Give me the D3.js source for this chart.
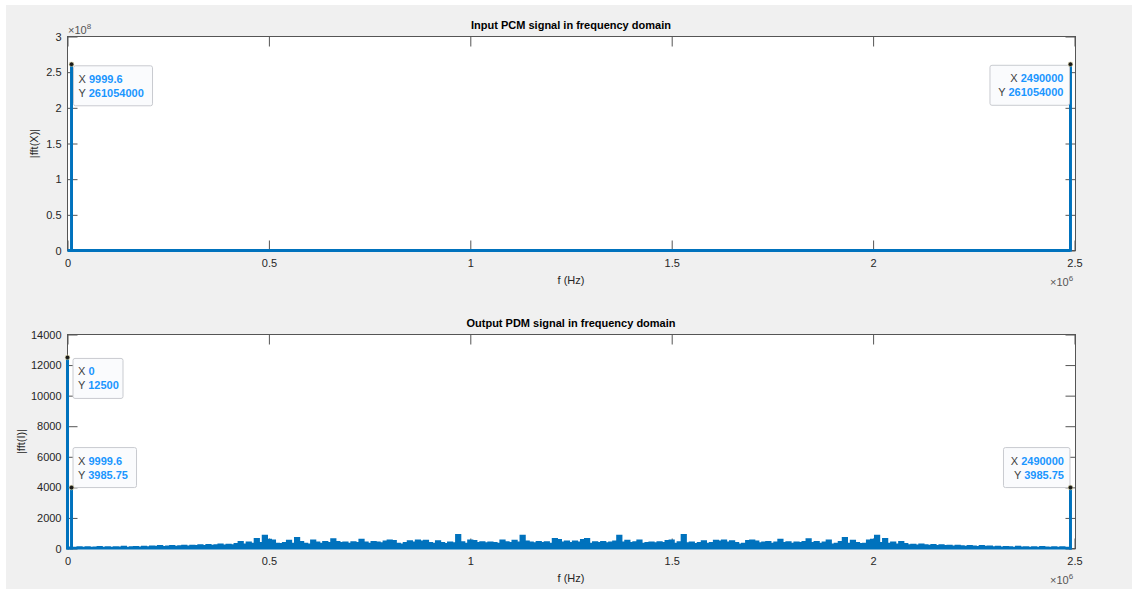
<!DOCTYPE html>
<html>
<head>
<meta charset="utf-8">
<script src="https://cdn.jsdelivr.net/npm/d3@7"></script>
<style>
  html, body { margin: 0; padding: 0; background: #ffffff; }
  svg { display: block; }
  text { font-family: "Liberation Sans", Arial, Helvetica, sans-serif; }
</style>
</head>
<body>
<svg id="fig" width="1132" height="589"></svg>
<script>
// Frequency grid: bin spacing of the noise-floor envelope (Hz)
const binHz = 9999.6;

// Input PCM spectrum: tonal lines
const pcmToneHz  = [9999.6, 2490000];
const pcmToneMag = [261054000, 261054000];

// Output PDM spectrum: tonal lines (DC + signal + image)
const pdmToneHz  = [0, 9999.6, 2490000];
const pdmToneMag = [12500, 3985.75, 3985.75];

// Output PDM noise floor, per bin (k = 0..249), |fft(I)|
const pdmFloor = [
   60,  50,  40,  70,  50,  80,  40,  60,  90,  50,
   70,  40,  80,  60, 100,  50,  70,  90,  60, 110,
   80, 130, 100, 150,  90, 120, 160, 110, 140, 180,
  130, 170, 150, 200, 160, 230, 180, 210, 260, 190,
  240, 200, 280, 420, 250, 380, 300, 620, 350, 820,
  560, 520, 300, 280, 350, 500, 300, 680, 420, 300,
  250, 520, 380, 300, 420, 350, 600, 420, 350, 380,
  300, 400, 350, 560, 380, 300, 420, 380, 330, 450,
  520, 480, 300, 250, 350, 460, 380, 520, 450, 500,
  350, 300, 470, 350, 280, 380, 330, 870, 400, 300,
  520, 480, 350, 400, 330, 380, 350, 300, 520, 400,
  350, 500, 380, 820, 450, 380, 330, 420, 350, 400,
  300, 620, 550, 380, 450, 350, 450, 380, 550, 620,
  300, 400, 350, 420, 330, 380, 450, 820, 380, 500,
  350, 400, 520, 300, 350, 380, 330, 400, 350, 480,
  520, 300, 400, 870, 330, 380, 280, 350, 470, 300,
  350, 500, 450, 520, 380, 460, 350, 250, 300, 480,
  520, 450, 330, 380, 420, 300, 380, 560, 350, 400,
  300, 380, 350, 420, 600, 350, 420, 300, 380, 520,
  250, 300, 420, 680, 300, 500, 350, 280, 300, 520,
  560, 820, 350, 620, 300, 380, 250, 420, 280, 200,
  240, 190, 260, 210, 180, 230, 160, 200, 150, 170,
  130, 180, 140, 110, 160, 120,  90, 150, 100, 130,
   80, 110,  60,  90,  70,  50, 100,  60,  80,  40,
   70,  50,  90,  60,  40,  80,  50,  70,  40,  50
];

// Axis ticks
const xTickValues = [0, 0.5e6, 1e6, 1.5e6, 2e6, 2.5e6];
const xTickLabels = ["0", "0.5", "1", "1.5", "2", "2.5"];
const pcmYTickValues = [0, 0.5e8, 1e8, 1.5e8, 2e8, 2.5e8, 3e8];
const pcmYTickLabels = ["0", "0.5", "1", "1.5", "2", "2.5", "3"];
const pdmYTickValues = [0, 2000, 4000, 6000, 8000, 10000, 12000, 14000];
const pdmYTickLabels = ["0", "2000", "4000", "6000", "8000", "10000", "12000", "14000"];

// Data tips shown on each panel (index into the tone arrays)
const pcmTips = [0, 1];
const pdmTips = [0, 1, 2];

const BLUE = "#0072BD";
const AXIS = "#555555";
const TEXT = "#262626";
const TIPVAL = "#1a96ff";

const svg = d3.select("#fig");

// figure background
svg.append("rect").attr("x", 6).attr("y", 5).attr("width", 1126).attr("height", 584)
  .attr("fill", "#f0f0f0");

function drawPanel(cfg) {
  const L = 67.5, R = 1075.5;
  const x = d3.scaleLinear().domain([0, 2.5e6]).range([L, R - 1]);
  const y = d3.scaleLinear().domain(cfg.yDomain).range([cfg.bottom, cfg.top]);
  const g = svg.append("g");

  // plot area
  g.append("rect").attr("x", L).attr("y", cfg.top).attr("width", R - L)
    .attr("height", cfg.bottom - cfg.top).attr("fill", "#ffffff");

  // axes: bottom with labels, top/right ticks only
  const fmtX = (d, i) => xTickLabels[i];
  const fmtY = (d, i) => cfg.yTickLabels[i];

  const ax = g.append("g").attr("transform", `translate(0,${cfg.bottom})`)
    .call(d3.axisBottom(x).tickValues(xTickValues).tickFormat(fmtX)
      .tickSizeInner(-10).tickSizeOuter(0).tickPadding(9));
  const axTop = g.append("g").attr("transform", `translate(0,${cfg.top})`)
    .call(d3.axisTop(x).tickValues(xTickValues).tickFormat("")
      .tickSizeInner(-10).tickSizeOuter(0));
  const ay = g.append("g").attr("transform", `translate(${L},0)`)
    .call(d3.axisLeft(y).tickValues(cfg.yTickValues).tickFormat(fmtY)
      .tickSizeInner(-10).tickSizeOuter(0).tickPadding(6));
  const ayR = g.append("g").attr("transform", `translate(${R},0)`)
    .call(d3.axisRight(y).tickValues(cfg.yTickValues).tickFormat("")
      .tickSizeInner(-10).tickSizeOuter(0));
  [ax, axTop, ay, ayR].forEach(a => {
    a.select(".domain").remove();
    a.selectAll("line").attr("stroke", AXIS);
    a.selectAll("text").attr("fill", TEXT).attr("font-size", 11)
      .attr("font-family", "'Liberation Sans', Arial, sans-serif");
  });

  // axes box
  g.append("rect").attr("x", L).attr("y", cfg.top).attr("width", R - L)
    .attr("height", cfg.bottom - cfg.top).attr("fill", "none").attr("stroke", AXIS);

  // noise floor (stepped envelope) or flat baseline
  if (cfg.floor) {
    const pts = cfg.floor.map((v, k) => ({ f: k * binHz, v }));
    const area = d3.area().curve(d3.curveStep)
      .x(d => x(d.f)).y0(y(0)).y1(d => y(d.v));
    g.append("path").attr("d", area(pts))
      .attr("fill", BLUE).attr("stroke", BLUE).attr("stroke-width", 2.2)
      .attr("stroke-linejoin", "miter");
  } else {
    const line = d3.line().x(d => x(d.f)).y(d => y(d.v));
    g.append("path").attr("d", line([{ f: 0, v: 0 }, { f: 249 * binHz, v: 0 }]))
      .attr("fill", "none").attr("stroke", BLUE).attr("stroke-width", 3);
  }

  // tonal lines
  const tones = cfg.toneHz.map((f, i) => ({ f, v: cfg.toneMag[i] }));
  g.selectAll("line.tone").data(tones).join("line").attr("class", "tone")
    .attr("x1", d => x(d.f)).attr("x2", d => x(d.f))
    .attr("y1", y(0) + 1).attr("y2", d => y(d.v))
    .attr("stroke", BLUE).attr("stroke-width", 3);

  // title
  g.append("text").attr("x", 571).attr("y", cfg.top - 8).attr("text-anchor", "middle")
    .attr("font-size", 11).attr("font-weight", "bold").attr("fill", "#000")
    .text(cfg.title);

  // x label
  g.append("text").attr("x", 571).attr("y", cfg.bottom + 33).attr("text-anchor", "middle")
    .attr("font-size", 11).attr("fill", TEXT).text("f (Hz)");

  // x exponent
  const xe = g.append("text").attr("x", 1050).attr("y", cfg.bottom + 35)
    .attr("font-size", 11).attr("fill", "#555");
  xe.append("tspan").text("\u00d710");
  xe.append("tspan").attr("dy", -5).attr("font-size", 8).text("6");

  // y label
  g.append("text")
    .attr("transform", `translate(${cfg.yLabelX},${(cfg.top + cfg.bottom) / 2}) rotate(-90)`)
    .attr("text-anchor", "middle").attr("font-size", 11).attr("fill", TEXT)
    .text(cfg.yLabel);

  // y exponent
  if (cfg.yExp) {
    const ye = g.append("text").attr("x", 68).attr("y", cfg.top - 3)
      .attr("font-size", 11).attr("fill", "#555");
    ye.append("tspan").text("\u00d710");
    ye.append("tspan").attr("dy", -5).attr("font-size", 8).text(cfg.yExp);
  }

  // data tips
  cfg.tips.forEach((ti, j) => {
    const d = tones[ti];
    const px = x(d.f), py = y(d.v);
    const box = cfg.tipBoxes[j];
    const bx = px + box.dx, by = py + box.dy;
    g.append("rect").attr("x", bx).attr("y", by).attr("width", box.w).attr("height", 40)
      .attr("rx", 2).attr("fill", "#fafbfd").attr("stroke", "#c9cbd0").attr("stroke-width", 1);
    const anchor = box.right ? "end" : "start";
    const tx = box.right ? bx + box.w - 6 : bx + 5;
    [["X ", String(d.f)], ["Y ", String(d.v)]].forEach((row, r) => {
      const t = g.append("text").attr("x", tx).attr("y", by + 17 + r * 14)
        .attr("text-anchor", anchor).attr("font-size", 11);
      t.append("tspan").attr("fill", "#404040").text(row[0]);
      t.append("tspan").attr("fill", TIPVAL).attr("font-weight", "bold").text(row[1]);
    });
    g.append("circle").attr("cx", px).attr("cy", py).attr("r", 2.3)
      .attr("fill", "#1a1a1a").attr("stroke", "#d8d2a0").attr("stroke-width", 0.6);
  });
}

drawPanel({
  top: 36.5, bottom: 250.5,
  yDomain: [0, 3e8],
  yTickValues: pcmYTickValues, yTickLabels: pcmYTickLabels,
  toneHz: pcmToneHz, toneMag: pcmToneMag,
  floor: null,
  title: "Input PCM signal in frequency domain",
  yLabel: "|fft(X)|", yLabelX: 38, yExp: "8",
  tips: pcmTips,
  tipBoxes: [
    { dx: 2, dy: 1.5, w: 79, right: false },
    { dx: -80.5, dy: 1, w: 79.5, right: true }
  ]
});

drawPanel({
  top: 334.5, bottom: 548.5,
  yDomain: [0, 14000],
  yTickValues: pdmYTickValues, yTickLabels: pdmYTickLabels,
  toneHz: pdmToneHz, toneMag: pdmToneMag,
  floor: pdmFloor,
  title: "Output PDM signal in frequency domain",
  yLabel: "|fft(I)|", yLabelX: 25, yExp: null,
  tips: pdmTips,
  tipBoxes: [
    { dx: 5.5, dy: 1, w: 50, right: false },
    { dx: 1.5, dy: -40, w: 63.5, right: false },
    { dx: -67, dy: -40, w: 66.5, right: true }
  ]
});
</script>
</body>
</html>
